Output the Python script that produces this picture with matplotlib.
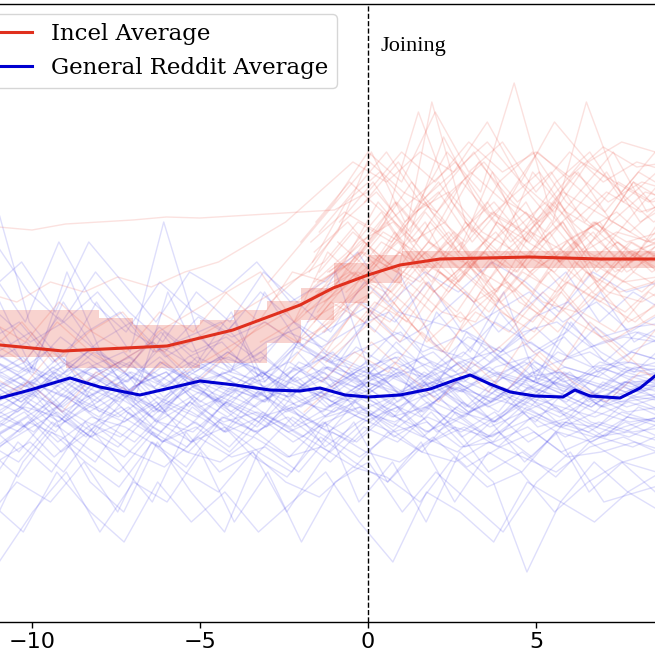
import numpy as np
import matplotlib
matplotlib.use("Agg")
import matplotlib.pyplot as plt

nan = np.nan

# ---- data (y in arbitrary score units) ----
base_x = list(range(-11, 10))  # month index relative to joining

blue_offsets = [0.0, -0.3, -0.15, -0.4, -0.05, -0.25, -0.35, -0.1, -0.45, -0.2,
                0.05, -0.38, -0.12, -0.28, -0.42, -0.08, -0.33, -0.18, 0.02, -0.22,
                -0.44, -0.06, -0.31, -0.14, -0.39, -0.03, -0.26, -0.36, -0.11, -0.24,
                -0.41, -0.16, -0.29, -0.07, -0.34, -0.2, 0.04, -0.43, -0.13, -0.27,
                -0.09, -0.37, -0.19, -0.02, -0.32, -0.23, -0.4, -0.1, -0.3, -0.17,
                -0.44, -0.05, -0.25, -0.35, -0.01, -0.21, -0.39, -0.12, -0.28, -0.06]
blue_users = [
    [240, 225, 260, 210, 235, 250, 220, 245, 230, 215, 240, 260, 225, 235, 210, 245, 230, 250, 220, 235, 240],
    [200, 215, 190, 230, 205, 185, 220, 200, 210, 195, 225, 205, 190, 215, 200, 185, 210, 195, 220, 205, 200],
    [270, 250, 285, 260, 240, 275, 255, 265, 245, 280, 260, 250, 270, 255, 240, 265, 280, 255, 245, 270, 260],
    [180, 160, 200, 175, 150, 190, 170, 160, 185, 165, 175, 155, 190, 170, 160, 180, 165, 150, 175, 185, 170],
    [310, 280, 300, 330, 290, 270, 305, 285, 300, 275, 295, 315, 280, 300, 290, 270, 305, 320, 285, 295, 300],
    [170, 190, 210, 185, 165, 200, 180, 195, 170, 205, 185, 165, 190, 200, 175, 180, 195, 170, 185, 190, 180],
    [230, 245, 220, 250, 235, 215, 240, 225, 255, 230, 210, 235, 250, 225, 240, 220, 245, 230, 215, 240, 235],
    [260, 240, 255, 275, 245, 230, 265, 250, 240, 270, 235, 255, 265, 240, 250, 275, 245, 235, 260, 250, 255],
    [100, 140, 120, 160, 110, 180, 150, 130, 170, 140, 125, 155, 145, 120, 165, 135, 150, 110, 140, 160, 130],
    [350, 300, 380, 320, 290, 340, 310, 290, 330, 300, 280, 320, 300, 340, 290, 310, 330, 300, 320, 290, 310],
    [210, 190, 225, 200, 180, 215, 195, 230, 205, 185, 215, 200, 225, 190, 210, 230, 195, 205, 185, 215, 200],
    [280, 300, 260, 290, 310, 270, 285, 300, 265, 290, 275, 295, 310, 270, 285, 260, 290, 300, 275, 285, 280],
    [170, 200, 185, 160, 210, 180, 195, 170, 205, 185, 160, 195, 180, 210, 175, 190, 165, 200, 185, 175, 190],
    [245, 265, 235, 255, 270, 240, 260, 245, 225, 250, 265, 240, 255, 235, 260, 270, 245, 250, 230, 255, 245],
    [130, 180, 150, 200, 160, 120, 190, 150, 170, 110, 160, 200, 140, 180, 120, 170, 150, 190, 130, 160, 150],
    [420, 300, 260, 320, 270, 400, 290, 250, 330, 280, 260, 300, 350, 280, 250, 310, 270, 290, 330, 280, 300],
    [240, 220, 250, 230, 260, 245, 215, 250, 235, 225, 255, 240, 220, 250, 230, 245, 260, 235, 225, 250, 240],
    [190, 220, 200, 240, 210, 190, 225, 205, 230, 195, 215, 235, 205, 190, 220, 200, 230, 210, 195, 225, 210],
    [60, 110, 150, 90, 140, 120, 170, 100, 150, 80, 140, 160, 110, 150, 120, 90, 140, 170, 120, 130, 140],
    [290, 260, 305, 275, 250, 295, 270, 285, 260, 300, 270, 255, 290, 275, 265, 300, 280, 260, 295, 270, 285],
    [220, 230, 210, 240, 225, 205, 235, 220, 245, 215, 230, 220, 240, 210, 235, 225, 215, 240, 230, 220, 225],
    [160, 180, 150, 195, 170, 155, 185, 165, 175, 150, 190, 170, 160, 185, 155, 175, 190, 165, 170, 180, 170],
    [330, 360, 310, 380, 340, 300, 350, 330, 360, 320, 340, 370, 320, 350, 330, 360, 340, 310, 350, 330, 340],
    [250, 235, 260, 245, 230, 255, 240, 250, 265, 240, 225, 250, 245, 260, 235, 250, 240, 255, 245, 235, 250],
    [200, 170, 210, 185, 230, 195, 175, 215, 190, 205, 180, 220, 195, 170, 210, 185, 200, 215, 180, 195, 205],
    [270, 290, 250, 280, 300, 265, 285, 255, 280, 295, 260, 275, 290, 255, 285, 270, 295, 265, 280, 290, 275],
    [120, 90, 150, 110, 80, 140, 100, 130, 90, 120, 150, 100, 60, 130, 110, 80, 140, 120, 100, 130, 110],
    [235, 215, 250, 225, 240, 210, 245, 230, 215, 240, 225, 250, 235, 210, 240, 220, 245, 230, 215, 240, 230],
    [380, 330, 300, 350, 310, 280, 330, 300, 350, 320, 290, 340, 310, 300, 330, 290, 320, 350, 300, 330, 310],
    [215, 240, 200, 225, 250, 210, 235, 220, 200, 245, 215, 230, 205, 240, 220, 200, 235, 225, 210, 240, 220],
    [175, 145, 190, 160, 135, 180, 155, 200, 165, 145, 185, 160, 140, 175, 195, 150, 170, 145, 180, 160, 170],
    [260, 280, 240, 270, 255, 290, 250, 270, 245, 275, 260, 240, 280, 250, 270, 245, 265, 285, 250, 270, 260],
    [205, 225, 195, 215, 235, 200, 220, 190, 230, 210, 195, 225, 205, 215, 235, 200, 220, 205, 225, 210, 215],
    [300, 250, 320, 270, 230, 290, 260, 310, 240, 280, 250, 300, 270, 230, 290, 260, 240, 300, 270, 250, 280],
    [180, 200, 165, 195, 215, 185, 170, 205, 190, 165, 200, 180, 210, 185, 170, 200, 160, 190, 180, 200, 185],
    [245, 260, 230, 255, 240, 265, 235, 250, 270, 240, 255, 235, 260, 245, 230, 255, 265, 240, 250, 260, 245],
    [320, 250, 350, 270, 220, 330, 260, 300, 220, 290, 350, 250, 230, 310, 270, 330, 240, 300, 260, 290, 280],
    [225, 210, 240, 220, 205, 230, 250, 215, 235, 210, 225, 245, 220, 205, 240, 215, 230, 250, 220, 235, 225],
    [185, 205, 170, 195, 215, 180, 200, 175, 210, 190, 170, 200, 215, 180, 195, 175, 205, 185, 200, 190, 195],
    [90, 160, 200, 140, 110, 180, 130, 90, 170, 150, 200, 120, 160, 100, 170, 140, 50, 120, 160, 130, 150],
    [230, 250, 215, 240, 260, 225, 245, 210, 235, 255, 220, 240, 230, 250, 215, 245, 235, 220, 250, 230, 240],
    [205, 190, 220, 200, 185, 215, 195, 225, 210, 190, 205, 220, 200, 185, 215, 195, 210, 225, 200, 190, 205],
    [255, 235, 265, 245, 225, 260, 240, 270, 250, 230, 255, 245, 265, 235, 250, 240, 260, 230, 255, 245, 250],
    [215, 235, 200, 225, 245, 210, 230, 215, 195, 235, 220, 205, 230, 240, 210, 225, 200, 235, 215, 225, 220],
    [240, 220, 245, 260, 230, 215, 250, 235, 225, 255, 240, 220, 245, 230, 260, 235, 220, 250, 240, 230, 245],
    [190, 210, 180, 205, 195, 175, 215, 190, 205, 180, 200, 215, 185, 205, 190, 210, 180, 200, 195, 185, 200],
    [265, 250, 275, 240, 260, 280, 245, 265, 255, 240, 270, 255, 240, 265, 250, 275, 245, 260, 270, 250, 260],
    [225, 240, 210, 230, 250, 220, 205, 235, 220, 245, 215, 230, 250, 220, 205, 235, 225, 245, 215, 230, 235],
    [200, 225, 245, 210, 230, 200, 240, 215, 195, 230, 250, 210, 225, 240, 205, 220, 240, 210, 230, 215, 225],
    [250, 230, 215, 245, 225, 260, 235, 215, 250, 230, 245, 225, 210, 245, 260, 230, 215, 250, 235, 225, 240],
    [180, 200, 220, 195, 175, 210, 230, 200, 185, 215, 195, 180, 210, 225, 195, 185, 215, 200, 190, 210, 200],
    [235, 255, 240, 220, 250, 235, 260, 240, 225, 250, 270, 235, 250, 225, 245, 265, 240, 230, 255, 240, 245],
    [210, 195, 230, 215, 200, 225, 210, 190, 220, 235, 205, 215, 195, 230, 210, 200, 225, 215, 205, 220, 210],
    [275, 255, 240, 270, 250, 235, 265, 280, 245, 260, 240, 275, 255, 245, 265, 250, 240, 270, 255, 260, 255],
    [220, 240, 225, 205, 235, 250, 215, 230, 245, 220, 210, 240, 225, 250, 215, 235, 220, 205, 240, 225, 230],
    [195, 215, 205, 185, 225, 200, 190, 220, 205, 215, 190, 210, 200, 220, 185, 205, 225, 195, 210, 200, 205],
    [245, 225, 255, 235, 220, 250, 230, 260, 240, 225, 245, 235, 255, 225, 240, 255, 230, 245, 225, 240, 240],
    [230, 210, 240, 255, 225, 210, 245, 230, 250, 215, 235, 255, 220, 240, 230, 210, 250, 235, 220, 245, 235],
    [170, 195, 215, 185, 200, 220, 180, 205, 190, 215, 175, 200, 220, 190, 205, 180, 215, 195, 185, 205, 195],
    [260, 240, 225, 250, 265, 235, 255, 240, 220, 260, 245, 230, 255, 270, 240, 225, 260, 245, 235, 255, 250],
]

red_offsets = [0.0, -0.3, -0.4, -0.2, -0.1, 0.8, 0.1, 0.4, 0.7, 0.9,
               0.15, 0.55, 0.25, 0.65, 0.85, 0.35, 0.75, 0.45, 0.05, 0.95,
               0.6, 0.3, 0.5, 0.2, 0.8, 0.1, 0.4, 0.7, 0.9, 0.55,
               -0.45, -0.25, 0.35, 0.85, 0.15, 0.45,
               0.3, 0.7, 0.1, 0.5, 0.9, 0.2, 0.6, 0.4, 0.8, 0.0, 0.35, 0.75, 0.15, 0.55, 0.95]
red_users = [
    [395, 392, 398, 400, 402, 405, 404, 406, 408, 410, 412, 430, 470, 440, 480, 450, 470, 445, 475, 455, 460],
    [270, 300, 260, 290, 310, 270, 280, 300, 320, 340, 360, 400, 380, 420, 370, 410, 390, 360, 400, 380, 390],
    [250, 230, 270, 240, 260, 280, 250, 270, 290, 310, 330, 350, 320, 360, 340, 310, 350, 330, 360, 340, 345],
    [300, 280, 320, 290, 270, 310, 290, 330, 350, 300, 370, 340, 390, 350, 380, 330, 370, 400, 350, 380, 360],
    [220, 240, 210, 250, 230, 260, 240, 270, 300, 280, 320, 300, 340, 310, 350, 320, 300, 340, 320, 350, 330],
    [nan] * 7 + [280, 300, 340, 370, 420, 380, 440, 400, 380, 430, 410, 390, 420, 400],
    [nan] * 8 + [320, 350, 390, 470, 400, 430, 380, 420, 450, 400, 430, 410, 420],
    [nan] * 9 + [300, 340, 380, 360, 330, 370, 350, 390, 340, 380, 360, 370],
    [nan] * 8 + [260, 300, 330, 360, 410, 370, 450, 380, 420, 360, 400, 440, 410],
    [nan] * 9 + [330, 380, 350, 520, 400, 370, 450, 410, 390, 440, 400, 420],
    [nan] * 9 + [280, 310, 330, 300, 350, 320, 340, 310, 360, 330, 320, 340],
    [nan] * 8 + [310, 340, 360, 400, 350, 390, 340, 380, 420, 370, 350, 390, 370],
    [nan] * 9 + [350, 400, 430, 390, 485, 420, 380, 410, 450, 400, 430, 420],
    [nan] * 9 + [290, 320, 300, 340, 310, 360, 320, 290, 330, 310, 340, 320],
    [nan] * 8 + [300, 330, 370, 350, 400, 360, 330, 390, 370, 340, 380, 360, 370],
    [nan] * 9 + [360, 420, 450, 410, 470, 430, 539, 420, 460, 440, 420, 440],
    [nan] * 9 + [260, 290, 320, 280, 310, 270, 300, 330, 290, 260, 300, 290],
    [nan] * 9 + [330, 350, 390, 370, 340, 380, 350, 400, 360, 380, 350, 370],
    [nan] * 8 + [340, 380, 420, 460, 430, 410, 450, 420, 470, 440, 410, 450, 430],
    [nan] * 9 + [310, 340, 370, 330, 360, 320, 350, 380, 330, 370, 340, 350],
    [nan] * 9 + [240, 270, 250, 290, 260, 230, 280, 250, 300, 270, 240, 270],
    [nan] * 9 + [380, 410, 390, 440, 400, 460, 420, 390, 430, 470, 410, 430],
    [nan] * 9 + [340, 360, 400, 510, 420, 380, 440, 400, 520, 430, 400, 420],
    [nan] * 9 + [300, 320, 290, 340, 310, 300, 350, 320, 310, 340, 300, 320],
    [nan] * 9 + [350, 370, 340, 380, 360, 390, 350, 370, 400, 360, 380, 370],
    [nan] * 9 + [210, 240, 280, 250, 220, 260, 230, 270, 240, 220, 250, 240],
    [nan] * 9 + [370, 400, 360, 410, 430, 390, 370, 420, 390, 410, 380, 400],
    [nan] * 9 + [320, 350, 330, 370, 340, 380, 410, 360, 330, 370, 350, 360],
    [nan] * 8 + [280, 300, 350, 380, 340, 400, 360, 330, 380, 400, 350, 390, 370],
    [nan] * 9 + [390, 430, 470, 420, 450, 500, 440, 410, 460, 430, 470, 450],
    [330, 320, 340, 330, 345, 335, 350, 360, 380, 400, 430, 460, 440, 470, 450, 480, 440, 500, 460, 480, 470],
    [280, 260, 300, 270, 250, 290, 310, 330, 300, 350, 340, 380, 400, 360, 390, 420, 380, 360, 400, 370, 380],
    [nan] * 9 + [260, 300, 340, 310, 270, 330, 300, 350, 310, 290, 330, 310],
    [nan] * 9 + [350, 380, 420, 380, 350, 400, 370, 340, 390, 360, 410, 380],
    [nan] * 9 + [310, 330, 360, 390, 350, 320, 370, 340, 380, 350, 330, 360],
    [nan] * 9 + [400, 440, 410, 380, 430, 460, 420, 450, 400, 440, 420, 430],
    [nan] * 9 + [330, 360, 420, 380, 400, 350, 390, 420, 370, 400, 380, 395],
    [nan] * 9 + [290, 330, 360, 400, 340, 380, 420, 360, 390, 350, 370, 360],
    [nan] * 10 + [380, 350, 400, 440, 390, 420, 380, 410, 450, 400, 420],
    [nan] * 9 + [310, 350, 330, 290, 340, 370, 320, 300, 350, 330, 340, 320],
    [nan] * 10 + [420, 460, 410, 380, 440, 470, 420, 390, 440, 420, 430],
    [nan] * 9 + [250, 280, 320, 300, 270, 310, 290, 330, 300, 280, 300, 290],
    [nan] * 10 + [360, 400, 430, 460, 410, 390, 440, 470, 420, 450, 430],
    [nan] * 9 + [340, 370, 410, 360, 390, 350, 380, 410, 370, 390, 380, 370],
    [nan] * 10 + [300, 340, 380, 350, 320, 360, 400, 340, 370, 350, 360],
    [nan] * 9 + [380, 420, 470, 440, 510, 450, 480, 430, 470, 440, 460, 450],
    [nan] * 10 + [330, 360, 340, 380, 350, 330, 370, 390, 350, 370, 360],
    [nan] * 9 + [270, 320, 290, 340, 300, 330, 280, 310, 340, 300, 320, 310],
    [nan] * 10 + [400, 440, 390, 430, 470, 420, 400, 450, 420, 440, 430],
    [nan] * 9 + [350, 390, 360, 340, 380, 420, 370, 350, 390, 360, 380, 370],
    [nan] * 10 + [310, 280, 330, 360, 310, 290, 340, 320, 300, 330, 320],
]

blue_mean_x = [-11.5, -10.95, -10.06, -8.87, -7.98, -6.79, -5.89, -5.0, -3.96, -2.92,
               -2.02, -1.43, -0.68, 0.0, 0.95, 1.85, 2.59, 3.04, 3.63, 4.23,
               4.97, 5.80, 6.16, 6.61, 7.50, 8.10, 8.54, 9.0, 9.5]
blue_mean_y = [222, 224, 232, 244, 235, 227, 234, 241, 237, 232,
               231, 234, 227, 225, 227, 233, 242, 247, 238, 230,
               226, 225, 232, 226, 224, 234, 246, 252, 255]

red_mean_x = [-11.5, -10.95, -9.08, -5.98, -4.02, -2.02, -1.04, 0.0, 0.95, 2.14, 4.82, 6.90, 8.54, 9.5]
red_mean_y = [279, 277, 271, 276, 292, 317, 334, 347, 357, 363, 365, 363, 363, 363]

red_band_edges = [-12, -9, -8, -7, -5, -4, -3, -2, -1, 0, 1, 10]
red_band_upper = [312, 312, 304, 297, 302, 312, 321, 334, 359, 367, 371]
red_band_lower = [265, 254, 254, 254, 259, 259, 279, 302, 319, 339, 354]

xticks = [-10, -5, 0, 5]
legend_labels = ["Incel Average", "General Reddit Average"]
event_label = "Joining"

# ---- figure ----
W = H = 655
fig = plt.figure(figsize=(W / 100, H / 100), dpi=100)
px_per_unit = 33.6
x0_px = 368.0
ax_left_px, ax_right_px = -33.0, 688.0
ax_top_px, ax_bot_px = 4.0, 622.0
ax = fig.add_axes([ax_left_px / W, 1 - ax_bot_px / H,
                   (ax_right_px - ax_left_px) / W, (ax_bot_px - ax_top_px) / H])
ax.set_xlim((ax_left_px - x0_px) / px_per_unit, (ax_right_px - x0_px) / px_per_unit)
ax.set_ylim(0, ax_bot_px - ax_top_px)

bx = np.array(base_x, dtype=float)
for off, ys in zip(blue_offsets, blue_users):
    ax.plot(bx + off, ys, color="#2828e8", alpha=0.15, lw=1.0, zorder=1)
for off, ys in zip(red_offsets, red_users):
    ax.plot(bx + off, ys, color="#e83a2a", alpha=0.15, lw=1.0, zorder=2)

upper = red_band_upper + [red_band_upper[-1]]
lower = red_band_lower + [red_band_lower[-1]]
ax.fill_between(red_band_edges, lower, upper, step="post",
                color="#e45040", alpha=0.25, lw=0, zorder=3)

ax.plot(red_mean_x, red_mean_y, color="#e0301e", lw=2.2, zorder=5, label=legend_labels[0])
ax.plot(blue_mean_x, blue_mean_y, color="#0000d0", lw=2.2, zorder=5, label=legend_labels[1])

ax.axvline(0, color="black", lw=1.0, ls="--", zorder=6)
ax.text(0.36, 575, event_label, fontsize=16, family=["Liberation Serif", "DejaVu Serif"],
        ha="left", va="center", zorder=7)

ax.set_xticks(xticks)
ax.set_xticklabels([f"{t}".replace("-", "\u2212") for t in xticks])
ax.tick_params(axis="x", labelsize=16, length=4, width=1, pad=3)
ax.set_yticks([])
for s in ax.spines.values():
    s.set_linewidth(1.0)

leg = ax.legend(loc="upper right", bbox_to_anchor=(337 / W, 1 - 14 / H),
                bbox_transform=fig.transFigure, borderaxespad=0,
                prop={"family": "DejaVu Serif", "size": 16.5}, handlelength=2.0,
                framealpha=0.8)
for line in leg.get_lines():
    line.set_linewidth(2.2)

fig.savefig("out.png", dpi=100)
